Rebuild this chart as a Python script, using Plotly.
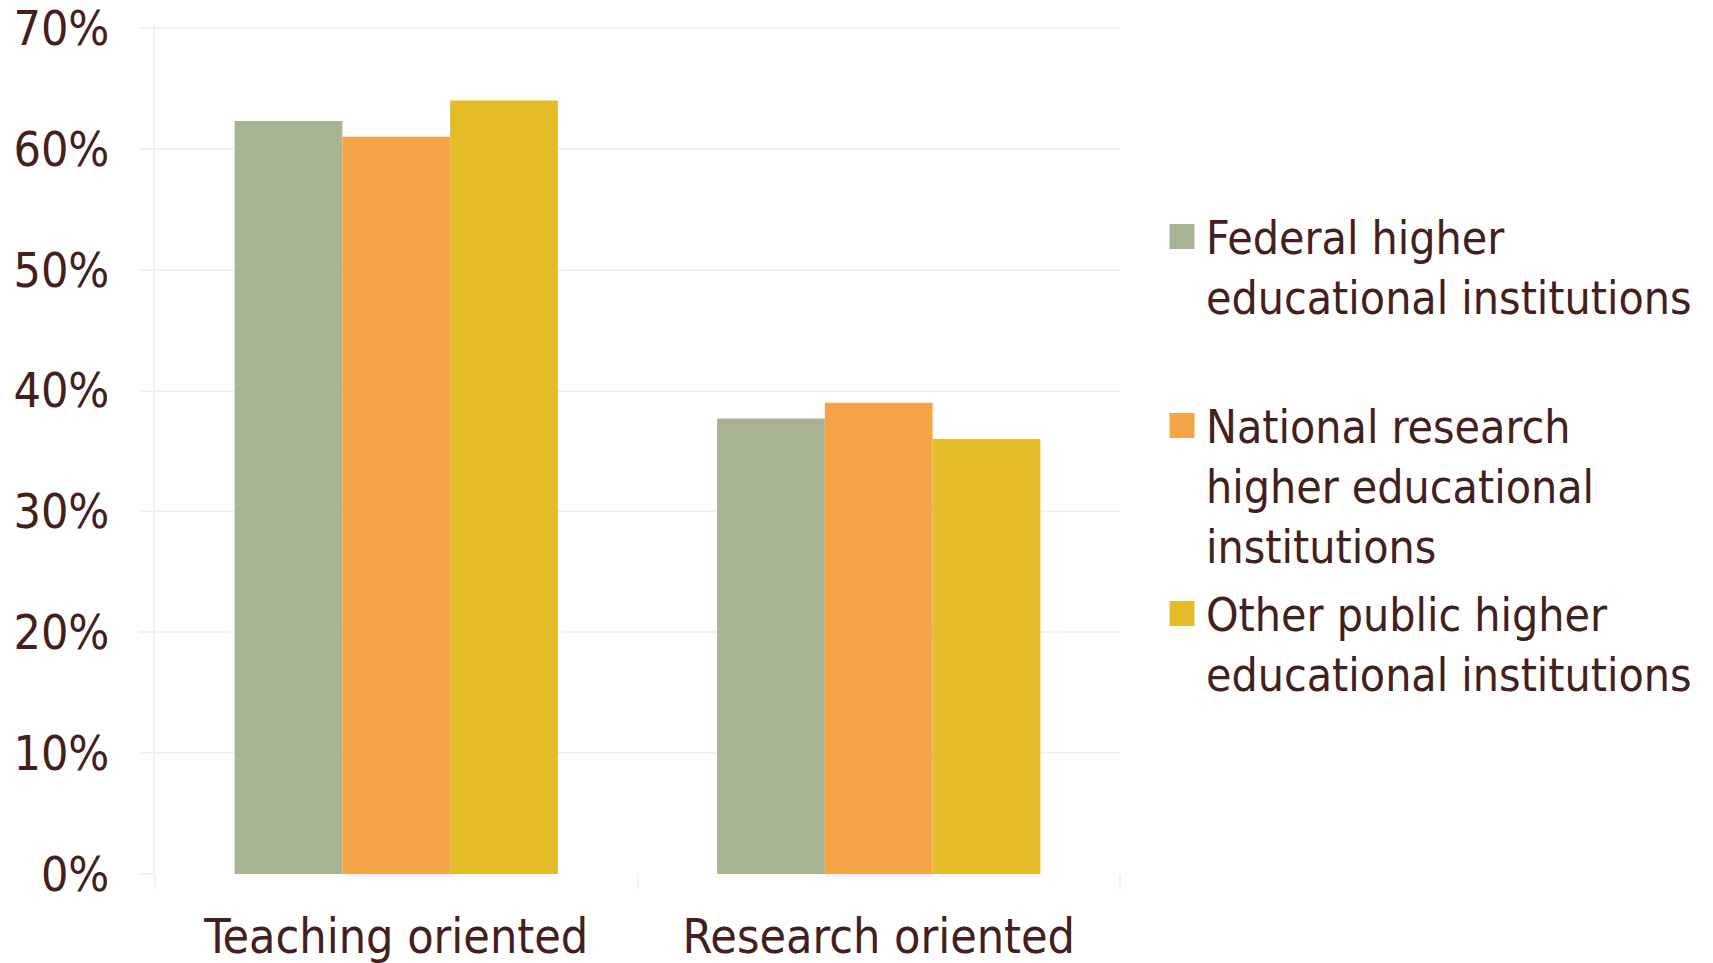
import plotly.graph_objects as go

categories = ["Teaching oriented", "Research oriented"]
series_names = [
    "Federal higher<br>educational institutions",
    "National research<br>higher educational<br>institutions",
    "Other public higher<br>educational institutions",
]
federal = [62.3, 37.7]
national = [61.0, 39.0]
other = [64.0, 36.0]
series_values = [federal, national, other]
colors = ["#A7B491", "#F2A447", "#E4BC2A"]
y_tickvals = [0, 10, 20, 30, 40, 50, 60, 70]
y_ticktext = ["0%", "10%", "20%", "30%", "40%", "50%", "60%", "70%"]

W, H = 1713, 963
L, R, T, B = 155, 593, 25, 89
TEXT = "#43201B"
GRID = "#F2F2F2"
FONT = "DejaVu Sans Condensed, DejaVu Sans, sans-serif"

fig = go.Figure()
for name, vals, col in zip(series_names, series_values, colors):
    fig.add_trace(go.Bar(x=categories, y=vals, name=name, marker_color=col,
                         marker_line_width=0, showlegend=False))

pw = W - L - R
ph = H - T - B

def px_x(x):
    return (x - L) / pw

def px_y(y):
    return (H - B - y) / ph

# custom legend (large swatches)
legend_centers = [239, 428, 616]
for name, col, cy in zip(series_names, colors, legend_centers):
    sc = cy - 2.5
    fig.add_shape(type="rect", xref="paper", yref="paper",
                  x0=px_x(1169.5), x1=px_x(1194.5), y0=px_y(sc + 12.5), y1=px_y(sc - 12.5),
                  fillcolor=col, line_width=0)
    fig.add_annotation(xref="paper", yref="paper", x=px_x(1204), y=px_y(cy - 30),
                       xanchor="left", yanchor="top", align="left", showarrow=False,
                       text=name, font=dict(family=FONT, size=46, color=TEXT))

fig.update_layout(
    template="none",
    width=W, height=H,
    margin=dict(l=L, r=R, t=T, b=B, autoexpand=False),
    paper_bgcolor="white", plot_bgcolor="white",
    barmode="group", bargap=0.33, bargroupgap=0,
    font=dict(family=FONT, size=48, color=TEXT),
)
fig.update_yaxes(range=[0, 70.25], tickvals=y_tickvals, ticktext=y_ticktext,
                 automargin=False, ticklabeloverflow="allow",
                 showgrid=True, gridcolor=GRID, gridwidth=2,
                 showline=True, linecolor=GRID, linewidth=2,
                 ticks="outside", ticklen=14, tickcolor=GRID, tickwidth=2,
                 ticklabelstandoff=20, zeroline=False,
                 tickfont=dict(family=FONT, size=48, color=TEXT))
fig.update_xaxes(tickson="boundaries", ticks="outside", ticklen=14, tickcolor=GRID,
                 tickwidth=2, showline=False, showgrid=False, automargin=False,
                 ticklabelstandoff=30, ticklabeloverflow="allow",
                 tickfont=dict(family=FONT, size=48, color=TEXT))

fig.write_html("out.html", config={"displayModeBar": False},
               post_script="document.body.style.margin='0';")
